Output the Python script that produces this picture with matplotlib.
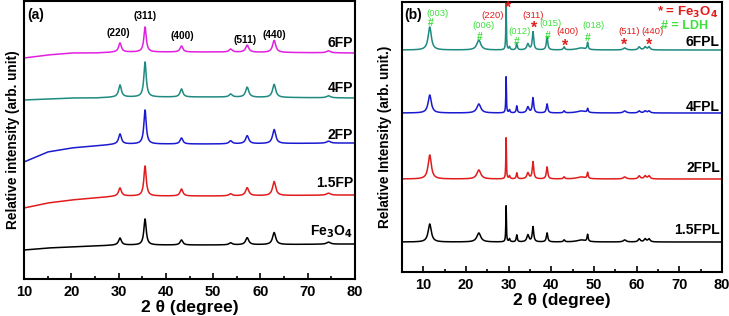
import numpy as np
import matplotlib
matplotlib.use("Agg")
import matplotlib.pyplot as plt

plt.rcParams['font.family'] = ['Liberation Sans', 'DejaVu Sans']
plt.rcParams['font.weight'] = 'bold'

# ---------------- panel (a) data ----------------
a_names = ["6FP", "4FP", "2FP", "1.5FP", "Fe$_3$O$_4$"]
a_colors = ["#e020e0", "#1e8a80", "#1a1ad0", "#e01c1c", "#000000"]
# background knots (2theta, intensity)
a_bg_x = [10, 15, 20, 25, 30, 50, 80]
a_bg_y = [
    [221, 224, 226, 226, 227, 227, 226],
    [179, 180, 181, 181, 182, 182, 181],
    [117, 127, 131, 133, 135, 135, 136],
    [71, 76, 79, 81, 83, 83, 84],
    [29, 31, 32, 33, 34, 34, 35],
]
a_peak_pos = [30.3, 35.6, 43.3, 53.7, 57.2, 62.9, 74.4]
a_peak_w = [0.35, 0.3, 0.35, 0.4, 0.4, 0.4, 0.5]
a_peak_h = [
    [9, 25, 6, 3, 7, 12, 2],
    [12, 35, 8, 3, 10, 13, 2],
    [10, 34, 6, 3, 8, 14, 2],
    [8, 30, 7, 2, 8, 14, 2],
    [7, 26, 5, 2, 7, 12, 2],
]
a_hkl = ["(220)", "(311)", "(400)", "(511)", "(440)"]
a_hkl_xy = [(29.9, 246), (35.6, 263), (43.4, 243), (56.7, 239), (62.9, 244)]
a_label_y = [236, 191, 144, 96, 47]

# ---------------- panel (b) data ----------------
b_names = ["6FPL", "4FPL", "2FPL", "1.5FPL"]
b_colors = ["#1e8a80", "#1a1ad0", "#e01c1c", "#000000"]
b_base = [222, 159, 93, 30]
b_peak_pos = [11.5, 23.0, 29.4, 30.2, 31.9, 34.5, 35.7, 39.0, 43.0, 47.0, 48.5, 57.2, 60.6, 62.0, 62.9]
b_peak_w = [0.45, 0.55, 0.08, 0.15, 0.15, 0.3, 0.2, 0.2, 0.2, 1.2, 0.15, 0.4, 0.3, 0.3, 0.3]
b_peak_h = [
    [23, 10, 47, 3, 7, 6, 18, 13, 3, 2, 7, 2, 3, 3, 3],
    [18, 9, 36, 3, 7, 6, 15, 9, 2, 2, 4, 2, 2, 2, 2],
    [24, 9, 41, 3, 6, 6, 17, 12, 2, 2, 6, 2, 3, 3, 3],
    [18, 9, 36, 3, 7, 7, 15, 9, 2, 2, 7, 2, 3, 3, 3],
]
b_label_y = [230, 165, 104, 42]
ldh_hkl = ["(003)", "(006)", "(012)", "(015)", "(018)"]
ldh_txt_xy = [(13.4, 259), (24.0, 247), (32.5, 240), (39.9, 248), (49.8, 246)]
ldh_mark_xy = [(11.8, 249), (23.3, 235), (32.0, 230), (39.2, 236), (48.6, 234)]
fe_hkl = ["(220)", "(311)", "(400)", "(511)", "(440)"]
fe_txt_xy = [(26.3, 257), (35.7, 256), (43.9, 240), (58.2, 240), (63.6, 240)]
fe_mark_xy = [(29.8, 267), (35.9, 247), (43.2, 229), (57.0, 230), (62.9, 230)]

RED = "#e01c1c"
GREEN = "#3ee03e"


def pattern(x, pos, w, h):
    y = np.zeros_like(x)
    for p, ww, hh in zip(pos, w, h):
        y += hh / (1 + ((x - p) / ww) ** 2)
    return y


fig = plt.figure(figsize=(7.29, 3.16), dpi=100)
ax1 = fig.add_axes([24 / 729, 37 / 316, 331 / 729, 278 / 316])
ax2 = fig.add_axes([402 / 729, 44 / 316, 320 / 729, 270 / 316])

x = np.linspace(10, 80, 3000)
for name, col, bg, hts, ly in zip(a_names, a_colors, a_bg_y, a_peak_h, a_label_y):
    y = np.interp(x, a_bg_x, bg) + pattern(x, a_peak_pos, a_peak_w, hts)
    ax1.plot(x, y, color=col, lw=1.1)
    ax1.text(79.6, ly, name, ha="right", va="center", fontsize=10, fontweight="bold")
for t, (tx, ty) in zip(a_hkl, a_hkl_xy):
    ax1.text(tx, ty, t, ha="center", va="center", fontsize=7.3, fontweight="bold")
ax1.text(10.6, 264, "(a)", ha="left", va="center", fontsize=10, fontweight="bold")
ax1.set_xlim(10, 80)
ax1.set_ylim(0, 278)
ax1.set_xticks(range(10, 81, 10))
ax1.set_xticks(range(15, 80, 10), minor=True)

xb = np.linspace(5, 80, 4000)
for name, col, base, hts, ly in zip(b_names, b_colors, b_base, b_peak_h, b_label_y):
    y = base + pattern(xb, b_peak_pos, b_peak_w, hts)
    ax2.plot(xb, y, color=col, lw=1.1)
    ax2.text(79.5, ly, name, ha="right", va="center", fontsize=10, fontweight="bold")
for t, (tx, ty), (mx, my) in zip(ldh_hkl, ldh_txt_xy, ldh_mark_xy):
    ax2.text(tx, ty, t, ha="center", va="center", fontsize=6.8, fontweight="normal", color=GREEN)
    ax2.text(mx, my, "#", ha="center", va="center", fontsize=7.5, fontweight="bold", color=GREEN)
for t, (tx, ty), (mx, my) in zip(fe_hkl, fe_txt_xy, fe_mark_xy):
    ax2.text(tx, ty, t, ha="center", va="center", fontsize=6.8, fontweight="normal", color=RED)
    ax2.text(mx, my - 3, "*", ha="center", va="center", fontsize=11.5, fontweight="bold", color=RED)
ax2.text(79.1, 260, "* = Fe$_3$O$_4$", ha="right", va="center", fontsize=9.5, fontweight="bold", color=RED)
ax2.text(76.7, 246, "# = LDH", ha="right", va="center", fontsize=9, fontweight="bold", color=GREEN)
ax2.text(5.6, 257, "(b)", ha="left", va="center", fontsize=10, fontweight="bold")
ax2.set_xlim(5, 80)
ax2.set_ylim(0, 270)
ax2.set_xticks(range(10, 81, 10))
ax2.set_xticks(range(15, 80, 10), minor=True)

for ax, yl, pad in [(ax1, "Relative intensity (arb. unit)", 3), (ax2, "Relative Intensity (arb. unit.)", 7)]:
    ax.set_yticks([])
    ax.tick_params(axis="x", which="major", direction="in", length=4, width=1.2, labelsize=10.5, pad=4)
    ax.tick_params(axis="x", which="minor", direction="in", length=2.5, width=1.2)
    for lab in ax.get_xticklabels():
        lab.set_fontweight("bold")
    for s in ax.spines.values():
        s.set_linewidth(1.5)
    ax.set_xlabel("2 θ (degree)", fontsize=12.5, fontweight="bold", labelpad=1)
    ax.set_ylabel(yl, fontsize=9.8, fontweight="bold", labelpad=pad)

fig.savefig("out.png", dpi=100)
